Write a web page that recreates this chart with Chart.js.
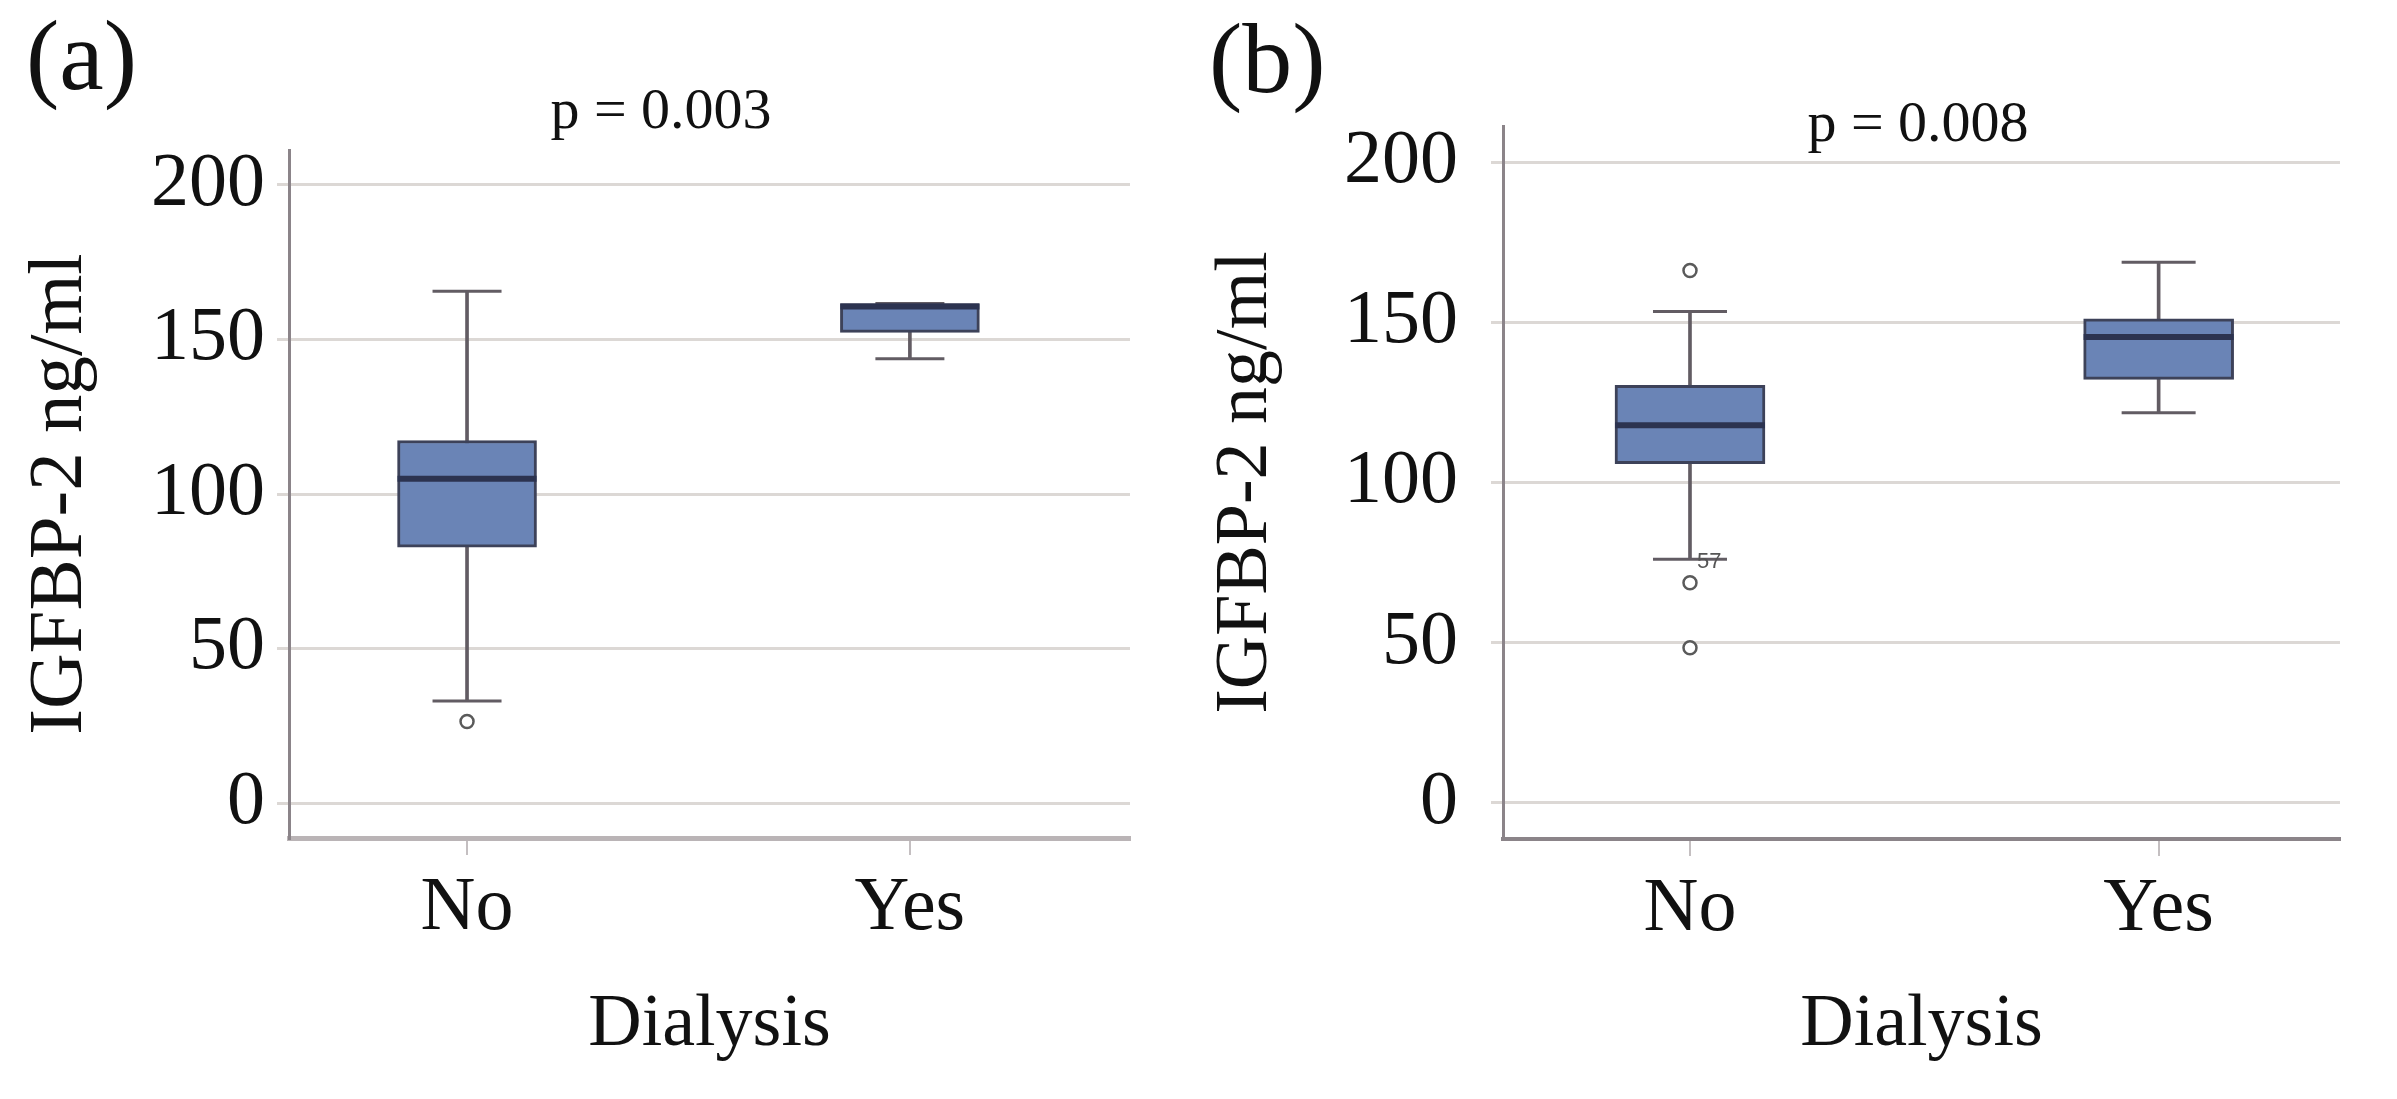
<!DOCTYPE html>
<html>
<head>
<meta charset="utf-8">
<script src="https://cdn.jsdelivr.net/npm/chart.js@4.4.1/dist/chart.umd.min.js"></script>
<style>
  html, body { margin: 0; padding: 0; background: #fff; }
  body { width: 2397px; height: 1099px; position: relative; overflow: hidden; }
  canvas { position: absolute; top: 0; }
  #chartA { left: 0; }
  #chartB { left: 1190px; }
</style>
</head>
<body>
<canvas id="chartA" width="1190" height="1099"></canvas>
<canvas id="chartB" width="1207" height="1099"></canvas>
<script>
const categories = ["No", "Yes"];
const yTickValues = [0, 50, 100, 150, 200];

// panel (a)
const aLow = [33, 143.8];
const aQ1 = [82.8, 152.3];
const aMedian = [104.9, 160.7];
const aQ3 = [117.3, 161.6];
const aHigh = [165.6, 161.6];
const aOutliers = [[26.4], []];

// panel (b)
const bLow = [76, 121.8];
const bQ1 = [105.9, 132.2];
const bMedian = [117.9, 145.4];
const bQ3 = [130.3, 151.1];
const bHigh = [153.4, 168.8];
const bOutliers = [[166.2, 68.7, 48.4], []];
const bCaseLabel = "57";

Chart.defaults.font.family = "'Liberation Serif', 'Times New Roman', serif";
Chart.defaults.color = "#111";

const textPlugin = {
  id: "panelText",
  afterDraw(chart, args, opts) {
    const ctx = chart.ctx;
    ctx.save();
    ctx.fillStyle = "#111";
    ctx.textBaseline = "alphabetic";
    ctx.font = "100px 'Liberation Serif'";
    ctx.textAlign = "left";
    ctx.fillText(opts.tag, opts.tagX, opts.tagY);
    ctx.font = "58px 'Liberation Serif'";
    ctx.textAlign = "center";
    ctx.fillText(opts.pText, opts.pX, opts.pY);
    if (opts.caseLabel) {
      const x = chart.scales.x.getPixelForValue(1);
      const y = chart.scales.y.getPixelForValue(opts.caseValue);
      ctx.font = "22px 'Liberation Sans'";
      ctx.fillStyle = "#555";
      ctx.textAlign = "left";
      ctx.fillText(opts.caseLabel, x + 7, y + 9);
    }
    ctx.restore();
  }
};

function boxChart(id, d) {
  const pts = arr => arr.map((v, i) => ({ x: i + 1, y: v }));
  const outPts = [];
  d.out.forEach((list, i) => list.forEach(v => outPts.push({ x: i + 1, y: v })));
  const whisker = "#625c63";

  return new Chart(document.getElementById(id), {
    type: "bar",
    data: {
      datasets: [
        {
          // median line
          type: "scatter",
          data: pts(d.med),
          pointStyle: "line",
          pointRadius: d.boxW / 2,
          pointHoverRadius: d.boxW / 2,
          borderColor: "#2c3350",
          pointBorderWidth: 6,
          order: 0
        },
        {
          // outliers
          type: "scatter",
          data: outPts,
          pointStyle: "circle",
          pointRadius: 6.5,
          pointBackgroundColor: "#fff",
          pointBorderColor: "#5a5a5a",
          pointBorderWidth: 2.5,
          order: 0
        },
        {
          // box q1..q3
          type: "bar",
          data: d.q1.map((v, i) => ({ x: i + 1, y: [v, d.q3[i]] })),
          barThickness: d.boxW,
          grouped: false,
          backgroundColor: "#6a84b6",
          borderColor: "#3d4259",
          borderWidth: 3,
          borderSkipped: false,
          order: 1
        },
        {
          // whisker caps
          type: "scatter",
          data: pts(d.low).concat(pts(d.high)),
          pointStyle: "line",
          pointRadius: d.capW / 2,
          pointHoverRadius: d.capW / 2,
          borderColor: whisker,
          pointBorderWidth: 3,
          order: 2
        },
        {
          // whisker stem
          type: "bar",
          data: d.low.map((v, i) => ({ x: i + 1, y: [v, d.high[i]] })),
          barThickness: 3,
          grouped: false,
          backgroundColor: whisker,
          borderWidth: 0,
          order: 3
        }
      ]
    },
    options: {
      responsive: false,
      animation: false,
      devicePixelRatio: 1,
      events: [],
      layout: { autoPadding: false, padding: { top: d.top, right: d.right, left: 0, bottom: 0 } },
      plugins: {
        legend: { display: false },
        tooltip: { enabled: false },
        panelText: d.text
      },
      scales: {
        x: {
          type: "linear",
          min: d.xMin,
          max: d.xMax,
          offset: false,
          afterBuildTicks: s => { s.ticks = categories.map((c, i) => ({ value: i + 1 })); },
          afterFit: s => { s.height = d.xHeight; s.paddingLeft = 0; s.paddingRight = 0; },
          ticks: {
            autoSkip: false,
            maxRotation: 0,
            padding: 8,
            font: { size: 76 },
            callback: v => categories[v - 1]
          },
          grid: {
            offset: false,
            drawOnChartArea: false,
            drawTicks: true,
            tickLength: 17,
            color: "#c4bfc1",
            lineWidth: 2
          },
          border: { display: true, color: d.xBorder, width: d.xBorderW },
          title: {
            display: true,
            text: "Dialysis",
            font: { size: 74, lineHeight: 1.2 },
            padding: { top: 0, bottom: 29 }
          }
        },
        y: {
          min: -11.3,
          max: 211.3,
          afterBuildTicks: s => { s.ticks = yTickValues.map(v => ({ value: v })); },
          afterFit: s => { s.width = d.yWidth; s.paddingTop = 0; s.paddingBottom = 0; },
          ticks: { padding: d.yPad, font: { size: 76 } },
          grid: { color: "#dcd8d5", lineWidth: 3, tickLength: 12, drawTicks: true },
          border: { display: true, color: "#8b8489", width: 3 },
          title: {
            display: true,
            text: "IGFBP-2 ng/ml",
            font: { size: d.yTitleSize, lineHeight: 1.2 },
            padding: { top: d.titlePad, bottom: 0 }
          }
        }
      }
    },
    plugins: [textPlugin]
  });
}

boxChart("chartA", {
  low: aLow, q1: aQ1, med: aMedian, q3: aQ3, high: aHigh, out: aOutliers,
  boxW: 139, capW: 69,
  top: 150, right: 60, xMin: 0.598, xMax: 2.497,
  xHeight: 261, yWidth: 289, yPad: 12, titlePad: 15, yTitleSize: 77,
  xBorder: "#bab4b6", xBorderW: 5,
  text: { tag: "(a)", tagX: 26, tagY: 89, pText: "p = 0.003", pX: 661, pY: 128 }
});

boxChart("chartB", {
  low: bLow, q1: bQ1, med: bMedian, q3: bQ3, high: bHigh, out: bOutliers,
  boxW: 150, capW: 74,
  top: 126, right: 57, xMin: 0.601, xMax: 2.387,
  xHeight: 260, yWidth: 313, yPad: 33, titlePad: 12, yTitleSize: 74,
  xBorder: "#8b8489", xBorderW: 4,
  text: { tag: "(b)", tagX: 19, tagY: 92, pText: "p = 0.008", pX: 728, pY: 141,
          caseLabel: bCaseLabel, caseValue: bLow[0] }
});
</script>
</body>
</html>
